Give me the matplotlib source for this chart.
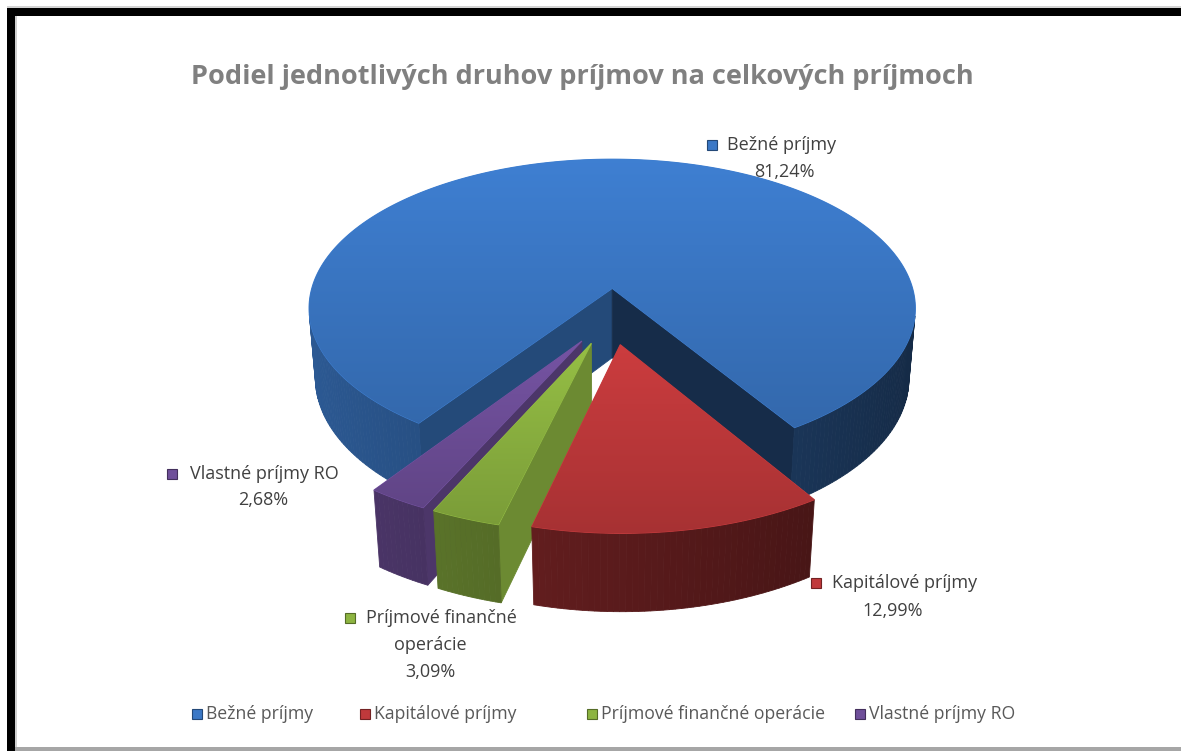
import numpy as np
import matplotlib
matplotlib.use("Agg")
import matplotlib.pyplot as plt
from matplotlib.patches import Polygon, Rectangle
from matplotlib.colors import to_rgb

# ---------------- data ----------------
categories = ["Bežné príjmy", "Kapitálové príjmy", "Príjmové finančné operácie", "Vlastné príjmy RO"]
label_names = ["Bežné príjmy", "Kapitálové príjmy", "Príjmové finančné\noperácie", "Vlastné príjmy RO"]
shares = [81.24, 12.99, 3.09, 2.68]
slice_colors = ["#3b78c6", "#c0393b", "#8db441", "#6f4f9a"]
wall_tint = [1.0, 0.85, 1.0, 1.0]
title_text = "Podiel jednotlivých druhov príjmov na celkových príjmoch"

FONT = "Open Sans"
W, H = 1181, 751
fig = plt.figure(figsize=(W / 100, H / 100), dpi=100)
ax = fig.add_axes([0, 0, 1, 1])
ax.set_xlim(0, W)
ax.set_ylim(H, 0)
ax.axis("off")

# ---------------- 3D pie geometry (layout) ----------------
CX, CY, SCALE = 611, 316, 308
PHI = np.radians(30)
DIST = 6.3
DEPTH = 0.27
EXPLODE = 0.184
START = 235.0
sp, cp = np.sin(PHI), np.cos(PHI)
cam = DIST * np.array([0, sp, cp])


def project(P):
    P = np.atleast_2d(P)
    X, Y, Z = P[:, 0], P[:, 1], P[:, 2]
    yp = Y * cp - Z * sp
    zp = Z * cp + Y * sp
    w = DIST / (DIST - zp)
    return np.column_stack([CX + SCALE * X * w, CY - SCALE * yp * w])


def shade(color, f):
    return tuple(np.clip(np.array(to_rgb(color)) * f, 0, 1))


def wall_factor(theta_deg):
    return 0.55 + 0.2 * np.cos(np.radians(theta_deg - 180))


def radial_factor(normal_deg):
    a = normal_deg % 360
    if 270 <= a <= 360:
        return float(np.clip(0.62 + 0.0073 * (a - 326), 0.5, 0.8))
    return 0.37


vals = np.array(shares, dtype=float)
ang = vals / vals.sum() * 360
ends = START - np.cumsum(ang)
starts = ends + ang

walls = []
tops = []
down = np.array([0, -DEPTH, 0])
for i, (t1, t2) in enumerate(zip(starts, ends)):
    base = slice_colors[i]
    bis = np.radians((t1 + t2) / 2)
    off = EXPLODE * np.array([np.cos(bis), 0, -np.sin(bis)])
    n = max(3, int(abs(t1 - t2) / 1.0) + 2)
    th = np.radians(np.linspace(t1, t2, n))
    rim = np.column_stack([np.cos(th), np.zeros(n), -np.sin(th)]) + off
    center = off.copy()
    for j in range(n - 1):
        quad = np.array([rim[j], rim[j + 1], rim[j + 1] + down, rim[j] + down])
        tm = (th[j] + th[j + 1]) / 2
        nrm = np.array([np.cos(tm), 0, -np.sin(tm)])
        mid = quad.mean(axis=0)
        if np.dot(nrm, cam - mid) > 0:
            walls.append((np.linalg.norm(cam - mid), project(quad),
                          shade(base, wall_tint[i] * wall_factor(np.degrees(tm)))))
    for t, sgn in ((np.radians(t1), 1), (np.radians(t2), -1)):
        edge = np.array([np.cos(t), 0, -np.sin(t)]) + off
        quad = np.array([center, edge, edge + down, center + down])
        nrm = sgn * np.array([-np.sin(t), 0, -np.cos(t)])
        mid = quad.mean(axis=0)
        if np.dot(nrm, cam - mid) > 0:
            ndeg = np.degrees(np.arctan2(-nrm[2], nrm[0]))
            walls.append((np.linalg.norm(cam - mid) + 0.05, project(quad),
                          shade(base, radial_factor(ndeg))))
    tops.append((project(np.vstack([center, rim])), base))

for d, poly, col in sorted(walls, key=lambda t: -t[0]):
    ax.add_patch(Polygon(poly, closed=True, facecolor=col, edgecolor=col, lw=0.6, zorder=2))

for k, (poly, base) in enumerate(tops):
    zt = 3 + k * 0.01
    ax.add_patch(Polygon(poly, closed=True, facecolor=shade(base, 0.95), edgecolor=shade(base, 1.05),
                         lw=0.8, zorder=zt))
    patch = Polygon(poly, closed=True, facecolor="none", edgecolor="none")
    ax.add_patch(patch)
    x0, y0 = poly.min(0)
    x1, y1 = poly.max(0)
    g = np.linspace(1.06, 0.87, 64)[:, None, None] * np.array(to_rgb(base))[None, None, :]
    im = ax.imshow(np.clip(g, 0, 1), extent=(x0, x1, y1, y0), origin="upper", aspect="auto",
                   zorder=zt + 0.001, interpolation="bilinear")
    im.set_clip_path(patch)

# ---------------- frame ----------------
ax.add_patch(Rectangle((7, 6), W - 7, 2, color="#d4d4d4", zorder=10, lw=0))
ax.add_patch(Rectangle((7, 8), W - 7, 8, color="black", zorder=10, lw=0))
ax.add_patch(Rectangle((7, 8), 8, H - 8, color="black", zorder=10, lw=0))
ax.add_patch(Rectangle((15, 16), 1.5, H - 20, color="#cfcfcf", zorder=10, lw=0))
ax.add_patch(Rectangle((15, H - 4), W - 15, 4, color="#a6a6a6", zorder=10, lw=0))

# ---------------- title ----------------
ax.text(582, 77, title_text, ha="center", va="center", fontsize=19.5, fontweight="bold",
        color="#808080", family=FONT, zorder=11)


def key(x, y, col, size=10):
    ax.add_patch(Rectangle((x - size / 2, y - size / 2), size, size, facecolor=col,
                           edgecolor=shade(col, 0.6), lw=0.8, zorder=11))


# ---------------- data labels ----------------
pct = [f"{v:.2f}".replace(".", ",") + "%" for v in shares]
label_first = [(712, 727, 145), (816, 832, 583), (350, 366, 618), (172, 190, 474)]
label_more = [[(784, 172)], [(893, 611)], [(430, 645), (430, 672)], [(263, 500)]]
for i in range(len(categories)):
    kx, tx, ty = label_first[i]
    key(kx, ty, slice_colors[i])
    lines = label_names[i].split("\n") + [pct[i]]
    ax.text(tx, ty, lines[0], ha="left", va="center", fontsize=13, color="#404040",
            family=FONT, zorder=11)
    for ln, (lx, ly) in zip(lines[1:], label_more[i]):
        ax.text(lx, ly, ln, ha="center", va="center", fontsize=13, color="#404040",
                family=FONT, zorder=11)

# ---------------- legend ----------------
leg_keys = [197, 365, 592, 860]
for i, cat in enumerate(categories):
    key(leg_keys[i], 714, slice_colors[i])
    ax.text(leg_keys[i] + 9, 714, cat, ha="left", va="center", fontsize=12.7, color="#595959",
            family=FONT, zorder=11)

fig.savefig("out.png", dpi=100, facecolor="white")
